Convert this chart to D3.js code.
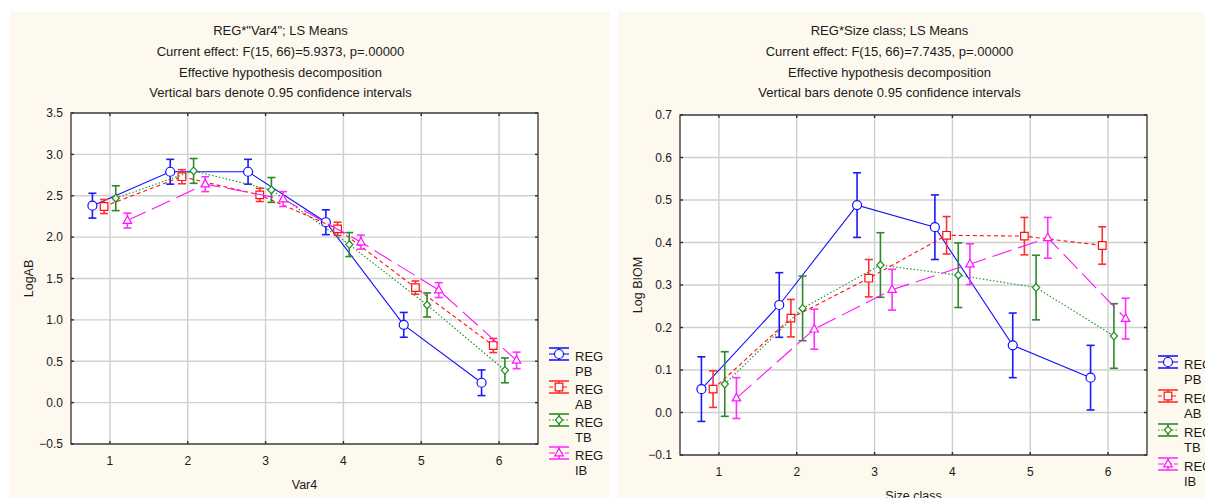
<!DOCTYPE html>
<html lang="en">
<head>
<meta charset="UTF-8">
<title>LS Means</title>
<script src="https://cdnjs.cloudflare.com/ajax/libs/d3/7.8.5/d3.min.js"></script>
<style>
    body { margin: 0; background: #ffffff; overflow: hidden; }
    svg { display: block; font-family: "Liberation Sans", Arial, sans-serif; }
    .title { font-size: 13px; fill: #1a1a1a; }
    .tick-label { font-size: 12px; fill: #1a1a1a; }
    .axis-title { font-size: 12.5px; fill: #1a1a1a; }
    .legend-text { font-size: 13px; fill: #1a1a1a; }
</style>
</head>
<body>
<div id="chart"></div>
<script>
    // categories (x) and series
    const xCats = [1, 2, 3, 4, 5, 6];
    const seriesNames = ["PB", "AB", "TB", "IB"];
    const seriesOffset = [-0.225, -0.075, 0.075, 0.225];

    // left chart: LogAB by Var4 (means and CI half widths per series)
    const var4Means = [
        [2.38, 2.79, 2.79, 2.18, 0.94, 0.24],
        [2.37, 2.73, 2.51, 2.10, 1.39, 0.69],
        [2.47, 2.80, 2.57, 1.91, 1.18, 0.39],
        [2.20, 2.64, 2.46, 1.94, 1.36, 0.51]
    ];
    const var4CI = [
        [0.15, 0.15, 0.15, 0.15, 0.15, 0.155],
        [0.085, 0.085, 0.08, 0.08, 0.08, 0.085],
        [0.15, 0.15, 0.15, 0.145, 0.145, 0.15],
        [0.09, 0.09, 0.09, 0.085, 0.09, 0.10]
    ];
    const var4YTicks = [-0.5, 0.0, 0.5, 1.0, 1.5, 2.0, 2.5, 3.0, 3.5];
    const var4Titles = [
        "REG*\"Var4\"; LS Means",
        "Current effect: F(15, 66)=5.9373, p=.00000",
        "Effective hypothesis decomposition",
        "Vertical bars denote 0.95 confidence intervals"
    ];

    // right chart: Log BIOM by Size class
    const sizeMeans = [
        [0.055, 0.253, 0.488, 0.436, 0.158, 0.082],
        [0.055, 0.222, 0.316, 0.417, 0.415, 0.393],
        [0.067, 0.245, 0.347, 0.323, 0.294, 0.180],
        [0.034, 0.196, 0.289, 0.349, 0.411, 0.221]
    ];
    const sizeCI = [
        [0.076, 0.076, 0.076, 0.076, 0.076, 0.076],
        [0.043, 0.044, 0.044, 0.044, 0.044, 0.044],
        [0.076, 0.076, 0.076, 0.076, 0.076, 0.076],
        [0.048, 0.047, 0.048, 0.048, 0.048, 0.048]
    ];
    const sizeYTicks = [-0.1, 0.0, 0.1, 0.2, 0.3, 0.4, 0.5, 0.6, 0.7];
    const sizeTitles = [
        "REG*Size class; LS Means",
        "Current effect: F(15, 66)=7.7435, p=.00000",
        "Effective hypothesis decomposition",
        "Vertical bars denote 0.95 confidence intervals"
    ];

    const styles = [
        { color: "#1010ff", bar: "#1a1aff", dash: null, marker: "circle" },
        { color: "#ff1010", bar: "#ff3030", dash: "4,3", marker: "square" },
        { color: "#1f8f1f", bar: "#2a8a2a", dash: "1.5,2", marker: "diamond" },
        { color: "#ff10ff", bar: "#ff30ff", dash: "20,7", marker: "triangle" }
    ];

    const W = 1205, H = 498;
    const svg = d3.select("#chart").append("svg")
        .attr("width", W).attr("height", H);

    // panel backgrounds
    svg.append("rect").attr("x", 10).attr("y", 12).attr("width", 600).attr("height", H - 12).attr("fill", "#fdf9ee");
    svg.append("rect").attr("x", 618).attr("y", 12).attr("width", W - 618).attr("height", H - 12).attr("fill", "#fdf9ee");

    function markerPath(type) {
        if (type === "circle") return d3.arc()({ innerRadius: 0, outerRadius: 4.5, startAngle: 0, endAngle: 2 * Math.PI });
        if (type === "square") return "M-3.8,-3.8H3.8V3.8H-3.8Z";
        if (type === "diamond") return "M0,-3.8L3.6,0L0,3.8L-3.6,0Z";
        return "M0,-4.6L4.2,2.8H-4.2Z";
    }

    function drawChart(cfg) {
        const g = svg.append("g");
        const x = d3.scaleLinear().domain([0.5, 6.5]).range([cfg.left, cfg.right]);
        const y = d3.scaleLinear().domain(cfg.yDomain).range([cfg.bottom, cfg.top]);

        g.append("rect")
            .attr("x", cfg.left).attr("y", cfg.top)
            .attr("width", cfg.right - cfg.left).attr("height", cfg.bottom - cfg.top)
            .attr("fill", "#ffffff");

        // grid
        g.selectAll(".vgrid").data(xCats).enter().append("line")
            .attr("x1", d => x(d)).attr("x2", d => x(d))
            .attr("y1", cfg.top).attr("y2", cfg.bottom)
            .attr("stroke", "#cfcfcf").attr("stroke-width", 1.4);
        g.selectAll(".hgrid").data(cfg.yTicks).enter().append("line")
            .attr("x1", cfg.left).attr("x2", cfg.right)
            .attr("y1", d => y(d)).attr("y2", d => y(d))
            .attr("stroke", "#cfcfcf").attr("stroke-width", 1.4);

        // frame
        g.append("rect")
            .attr("x", cfg.left).attr("y", cfg.top)
            .attr("width", cfg.right - cfg.left).attr("height", cfg.bottom - cfg.top)
            .attr("fill", "none").attr("stroke", "#202020").attr("stroke-width", 1.2);

        // inward tick marks
        const tk = 3;
        xCats.forEach(v => {
            g.append("line").attr("x1", x(v)).attr("x2", x(v)).attr("y1", cfg.bottom).attr("y2", cfg.bottom - tk).attr("stroke", "#303030").attr("stroke-width", 1.4);
            g.append("line").attr("x1", x(v)).attr("x2", x(v)).attr("y1", cfg.top).attr("y2", cfg.top + tk).attr("stroke", "#303030").attr("stroke-width", 1.4);
        });
        cfg.yTicks.forEach(v => {
            g.append("line").attr("x1", cfg.right).attr("x2", cfg.right - tk).attr("y1", y(v)).attr("y2", y(v)).attr("stroke", "#303030").attr("stroke-width", 1.4);
            g.append("line").attr("x1", cfg.left).attr("x2", cfg.left + tk).attr("y1", y(v)).attr("y2", y(v)).attr("stroke", "#303030").attr("stroke-width", 1.4);
        });

        // tick labels
        g.selectAll(".ylab").data(cfg.yTicks).enter().append("text")
            .attr("class", "tick-label")
            .attr("x", cfg.left - 8).attr("y", d => y(d) + 4.3)
            .attr("text-anchor", "end")
            .text(d => d3.format(".1f")(d));
        g.selectAll(".xlab").data(xCats).enter().append("text")
            .attr("class", "tick-label")
            .attr("x", d => x(d)).attr("y", cfg.bottom + 21)
            .attr("text-anchor", "middle")
            .text(d => d);

        // axis titles
        const cx = (cfg.left + cfg.right) / 2;
        const cy = (cfg.top + cfg.bottom) / 2;
        g.append("text").attr("class", "axis-title")
            .attr("text-anchor", "middle")
            .attr("transform", `translate(${cfg.left - 38.5},${cy}) rotate(-90)`)
            .text(cfg.yTitle);
        g.append("text").attr("class", "axis-title")
            .attr("x", cx).attr("y", cfg.bottom + 45)
            .attr("text-anchor", "middle")
            .text(cfg.xTitle);

        // titles
        g.selectAll(".title").data(cfg.titles).enter().append("text")
            .attr("class", "title")
            .attr("x", cx - 24).attr("y", (d, i) => 35 + i * 20.8)
            .attr("text-anchor", "middle")
            .text(d => d);

        // series
        const line = d3.line().x(d => x(d.x)).y(d => y(d.v));
        cfg.means.forEach((arr, s) => {
            const st = styles[s];
            const pts = arr.map((v, i) => ({ x: xCats[i] + seriesOffset[s], v: v, ci: cfg.ci[s][i] }));
            const sg = g.append("g");
            sg.append("path").datum(pts)
                .attr("d", line)
                .attr("fill", "none")
                .attr("stroke", st.color)
                .attr("stroke-width", 1.1)
                .attr("stroke-dasharray", st.dash);
            // error bars
            const eb = sg.selectAll(".eb").data(pts).enter().append("g")
                .attr("stroke", st.bar).attr("stroke-width", 1.6);
            eb.append("line")
                .attr("x1", d => x(d.x)).attr("x2", d => x(d.x))
                .attr("y1", d => y(d.v + d.ci)).attr("y2", d => y(d.v - d.ci));
            eb.append("line")
                .attr("x1", d => x(d.x) - 4).attr("x2", d => x(d.x) + 4)
                .attr("y1", d => y(d.v + d.ci)).attr("y2", d => y(d.v + d.ci));
            eb.append("line")
                .attr("x1", d => x(d.x) - 4).attr("x2", d => x(d.x) + 4)
                .attr("y1", d => y(d.v - d.ci)).attr("y2", d => y(d.v - d.ci));
            sg.selectAll(".mk").data(pts).enter().append("path")
                .attr("d", markerPath(st.marker))
                .attr("transform", d => `translate(${x(d.x)},${y(d.v)})`)
                .attr("fill", "#ffffff")
                .attr("stroke", st.color)
                .attr("stroke-width", 1.2);
        });

        // legend
        seriesNames.forEach((name, s) => {
            const st = styles[s];
            const ly = cfg.legendY + s * cfg.legendStep;
            const lx = cfg.legendX;
            const lg = g.append("g");
            lg.append("line").attr("x1", lx).attr("x2", lx + 20).attr("y1", ly).attr("y2", ly)
                .attr("stroke", st.color).attr("stroke-width", 1.1).attr("stroke-dasharray", st.dash ? (s === 3 ? "6,2" : st.dash) : null);
            [-6, 6].forEach(o => lg.append("line").attr("x1", lx).attr("x2", lx + 20).attr("y1", ly + o).attr("y2", ly + o)
                .attr("stroke", st.bar).attr("stroke-width", 1.6));
            lg.append("line").attr("x1", lx + 10).attr("x2", lx + 10).attr("y1", ly - 6).attr("y2", ly + 6)
                .attr("stroke", st.bar).attr("stroke-width", 1.6);
            lg.append("path").attr("d", markerPath(st.marker))
                .attr("transform", `translate(${lx + 10},${ly})`)
                .attr("fill", "#ffffff").attr("stroke", st.color).attr("stroke-width", 1.2);
            lg.append("text").attr("class", "legend-text")
                .attr("x", lx + 26).attr("y", ly + 6.5).text("REG");
            lg.append("text").attr("class", "legend-text")
                .attr("x", lx + 26).attr("y", ly + 21.5).text(name);
        });
    }

    drawChart({
        left: 71, right: 538, top: 113, bottom: 444,
        yDomain: [-0.5, 3.5], yTicks: var4YTicks,
        means: var4Means, ci: var4CI, titles: var4Titles,
        yTitle: "LogAB", xTitle: "Var4",
        legendX: 549, legendY: 354, legendStep: 33
    });
    drawChart({
        left: 680, right: 1147, top: 115, bottom: 455,
        yDomain: [-0.1, 0.7], yTicks: sizeYTicks,
        means: sizeMeans, ci: sizeCI, titles: sizeTitles,
        yTitle: "Log BIOM", xTitle: "Size class",
        legendX: 1158, legendY: 362, legendStep: 34
    });
</script>
</body>
</html>
